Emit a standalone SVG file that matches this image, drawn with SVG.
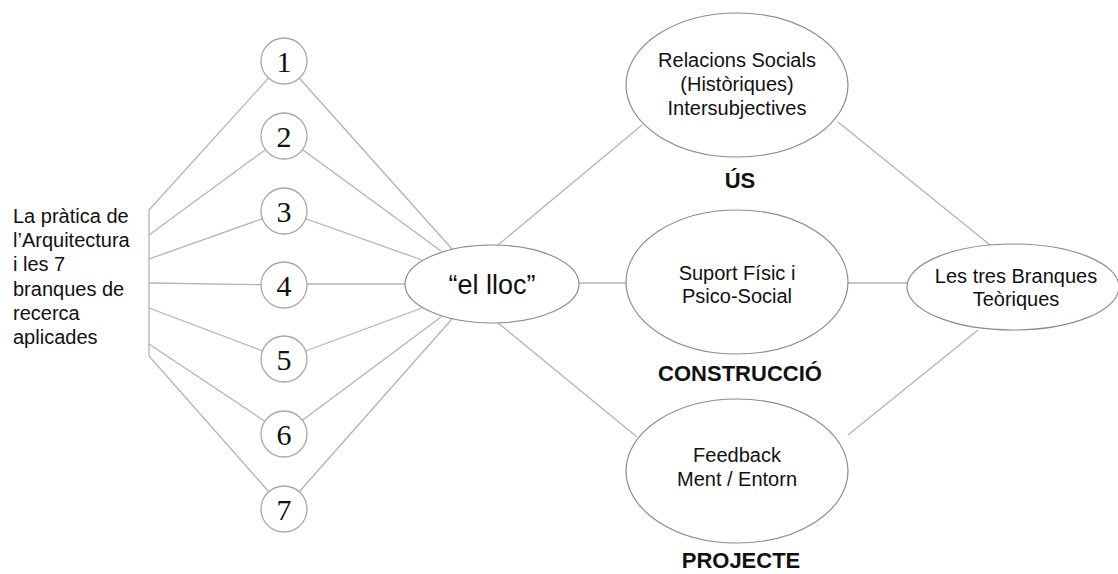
<svg xmlns="http://www.w3.org/2000/svg" width="1118" height="574" viewBox="0 0 1118 574">
<style>
.ln{stroke:#b4b4b4;stroke-width:1.3;fill:none}
.cir{fill:#fff;stroke:#a8a8a8;stroke-width:1.3}
.ell{fill:#fff;stroke:#8c8c8c;stroke-width:1.2}
.num{font-family:"Liberation Serif","Times New Roman",serif;font-size:30px;fill:#111;text-anchor:middle}
.t{font-family:"Liberation Sans",Arial,sans-serif;font-size:20px;fill:#111}
.c{text-anchor:middle}
.b{font-family:"Liberation Sans",Arial,sans-serif;font-size:22px;font-weight:bold;fill:#111;text-anchor:middle}
</style>
<rect width="1118" height="574" fill="#fff"/>
<g id="connectors">
<polyline class="ln" points="149,210 149,356"/>
<line class="ln" x1="149" y1="210" x2="284" y2="61"/>
<line class="ln" x1="149" y1="235" x2="284" y2="136"/>
<line class="ln" x1="149" y1="259" x2="284" y2="211"/>
<line class="ln" x1="149" y1="283" x2="284" y2="285"/>
<line class="ln" x1="149" y1="308" x2="284" y2="359"/>
<line class="ln" x1="149" y1="344" x2="284" y2="434"/>
<line class="ln" x1="149" y1="356" x2="284" y2="509"/>
<line class="ln" x1="284" y1="61" x2="452" y2="249"/>
<line class="ln" x1="284" y1="136" x2="441" y2="251"/>
<line class="ln" x1="284" y1="211" x2="422" y2="260"/>
<line class="ln" x1="284" y1="284" x2="406" y2="284"/>
<line class="ln" x1="284" y1="359" x2="422" y2="308"/>
<line class="ln" x1="284" y1="434" x2="441" y2="317"/>
<line class="ln" x1="284" y1="509" x2="452" y2="319"/>
<line class="ln" x1="498" y1="245" x2="642" y2="125"/>
<line class="ln" x1="579" y1="283" x2="627" y2="283"/>
<line class="ln" x1="497" y1="322" x2="637" y2="437"/>
<line class="ln" x1="838" y1="122" x2="990" y2="245"/>
<line class="ln" x1="848" y1="283" x2="907" y2="283"/>
<line class="ln" x1="848" y1="435" x2="978" y2="330"/>
</g>
<g id="source">
<text class="t" x="13" y="223">La pràtica de</text>
<text class="t" x="13" y="247">l’Arquitectura</text>
<text class="t" x="13" y="271">i les 7</text>
<text class="t" x="13" y="296">branques de</text>
<text class="t" x="13" y="320">recerca</text>
<text class="t" x="13" y="344">aplicades</text>
</g>
<g id="n1"><circle class="cir" cx="284" cy="61" r="23"/><text class="num" x="284" y="72">1</text></g>
<g id="n2"><circle class="cir" cx="284" cy="136" r="23"/><text class="num" x="284" y="147">2</text></g>
<g id="n3"><circle class="cir" cx="284" cy="211" r="23"/><text class="num" x="284" y="222">3</text></g>
<g id="n4"><circle class="cir" cx="284" cy="285" r="23"/><text class="num" x="284" y="296">4</text></g>
<g id="n5"><circle class="cir" cx="284" cy="359" r="23"/><text class="num" x="284" y="370">5</text></g>
<g id="n6"><circle class="cir" cx="284" cy="434" r="23"/><text class="num" x="284" y="445">6</text></g>
<g id="n7"><circle class="cir" cx="284" cy="509" r="23"/><text class="num" x="284" y="520">7</text></g>
<g id="lloc"><ellipse class="ell" cx="492" cy="284" rx="87" ry="39"/><text class="t c" x="492" y="294" style="font-size:27px">“el lloc”</text></g>
<g id="relacions"><ellipse class="ell" cx="737" cy="85" rx="111" ry="72"/>
<text class="t c" x="737" y="67">Relacions Socials</text>
<text class="t c" x="737" y="91">(Històriques)</text>
<text class="t c" x="737" y="115">Intersubjectives</text></g>
<text class="b" id="us" x="740" y="188">ÚS</text>
<g id="suport"><ellipse class="ell" cx="737" cy="282" rx="111" ry="72"/>
<text class="t c" x="737" y="280">Suport Físic i</text>
<text class="t c" x="737" y="303">Psico-Social</text></g>
<text class="b" id="construccio" x="740" y="381">CONSTRUCCIÓ</text>
<g id="feedback"><ellipse class="ell" cx="737" cy="471" rx="111" ry="72"/>
<text class="t c" x="737" y="462">Feedback</text>
<text class="t c" x="737" y="486">Ment / Entorn</text></g>
<text class="b" id="projecte" x="741" y="568">PROJECTE</text>
<g id="branques"><ellipse class="ell" cx="1013" cy="287" rx="106" ry="43"/>
<text class="t c" x="1016" y="283">Les tres Branques</text>
<text class="t c" x="1016" y="306">Teòriques</text></g>
</svg>
